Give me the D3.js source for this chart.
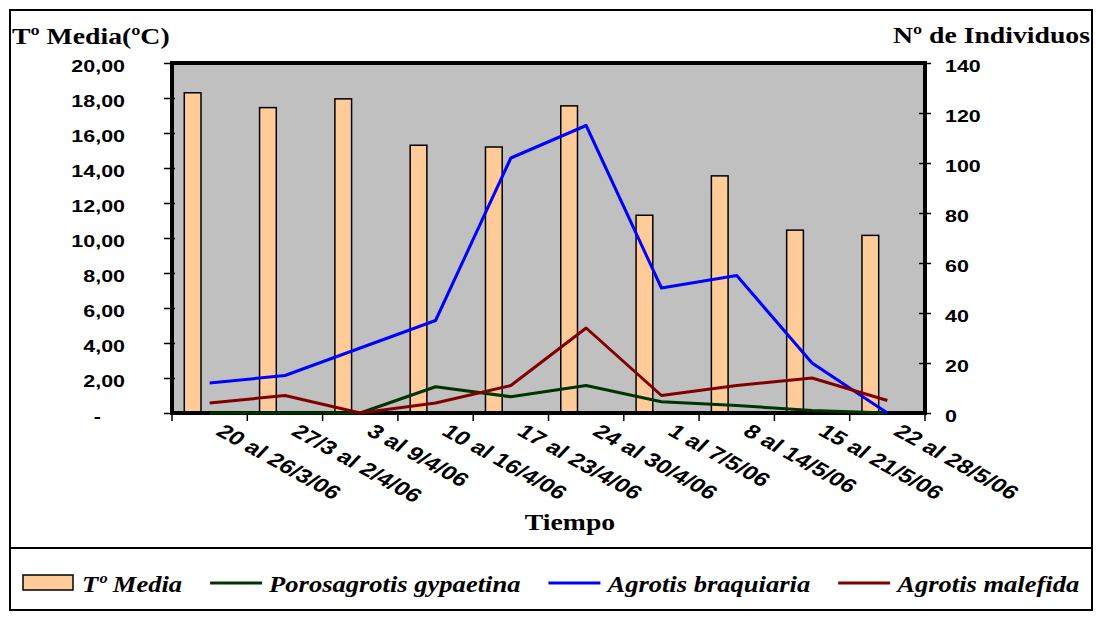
<!DOCTYPE html>
<html>
<head>
<meta charset="utf-8">
<script src="https://cdn.jsdelivr.net/npm/d3@7"></script>
<style>
  body { margin: 0; background: #fff; }
  svg { display: block; }
</style>
</head>
<body>
<svg id="chart" width="1096" height="619"></svg>
<script>
// Weekly sampling periods
const categories = [
  "20 al 26/3/06", "27/3 al 2/4/06", "3 al 9/4/06", "10 al 16/4/06", "17 al 23/4/06",
  "24 al 30/4/06", "1 al 7/5/06", "8 al 14/5/06", "15 al 21/5/06", "22 al 28/5/06"
];
// Mean temperature (ºC), left axis
const tempMedia = [18.3, 17.45, 17.95, 15.3, 15.2, 17.55, 11.3, 13.55, 10.45, 10.15];
// Number of individuals per species, right axis
const porosagrotis = [0, 0, 0, 10.5, 6.5, 11, 4.5, 3, 1, 0];
const braquiaria = [12, 15, 26, 37, 102, 115, 50, 55, 20, 0];
const malefida = [4, 7, 0, 4, 11, 34, 7, 11, 14, 5];
// Axis ticks
const leftTicks = d3.range(0, 21, 2);
const rightTicks = d3.range(0, 141, 20);

const SANS = "'Liberation Sans', Arial, sans-serif";
const SERIF = "'Liberation Serif', 'Times New Roman', serif";
const SX = 1.3;    // horizontal stretch for axis text
const SXT = 1.18;  // horizontal stretch for serif titles / legend

const svg = d3.select("#chart");
const plot = { left: 172, right: 925, top: 63, bottom: 413 };

const x = d3.scaleBand().domain(categories).range([plot.left, plot.right]);
const yL = d3.scaleLinear().domain([0, 20]).range([plot.bottom, plot.top]);
const yR = d3.scaleLinear().domain([0, 140]).range([plot.bottom, plot.top]);

// Outer frame and legend separator
svg.append("rect")
  .attr("x", 10).attr("y", 10).attr("width", 1082).attr("height", 600)
  .attr("fill", "#fff").attr("stroke", "#000").attr("stroke-width", 2);
svg.append("line")
  .attr("x1", 10).attr("x2", 1092).attr("y1", 548).attr("y2", 548)
  .attr("stroke", "#000").attr("stroke-width", 2);

// Plot background
svg.append("rect")
  .attr("x", plot.left).attr("y", plot.top)
  .attr("width", plot.right - plot.left).attr("height", plot.bottom - plot.top)
  .attr("fill", "#C0C0C0");

// Temperature bars (sit in the left part of each period)
const barOffset = 0.163, barWidth = 0.222;
svg.append("g").selectAll("rect")
  .data(tempMedia)
  .join("rect")
  .attr("x", (d, i) => x(categories[i]) + x.bandwidth() * barOffset)
  .attr("width", x.bandwidth() * barWidth)
  .attr("y", d => yL(d))
  .attr("height", d => yL(0) - yL(d))
  .attr("fill", "#FFCC99")
  .attr("stroke", "#000")
  .attr("stroke-width", 1.5);

// Plot border
svg.append("rect")
  .attr("x", plot.left).attr("y", plot.top)
  .attr("width", plot.right - plot.left).attr("height", plot.bottom - plot.top)
  .attr("fill", "none").attr("stroke", "#000").attr("stroke-width", 4);

// Species lines
const line = d3.line()
  .x((d, i) => x(categories[i]) + x.bandwidth() / 2)
  .y(d => yR(d));
const seriesList = [
  { name: "Porosagrotis gypaetina", values: porosagrotis, color: "#003300" },
  { name: "Agrotis braquiaria", values: braquiaria, color: "#0000FF" },
  { name: "Agrotis malefida", values: malefida, color: "#800000" }
];
svg.append("g").selectAll("path")
  .data(seriesList)
  .join("path")
  .attr("d", s => line(s.values))
  .attr("fill", "none")
  .attr("stroke", s => s.color)
  .attr("stroke-width", 3)
  .attr("stroke-linejoin", "round");

// Left axis
const fmtLeft = d => d === 0 ? "-" : d3.format(".2f")(d).replace(".", ",");
const gL = svg.append("g")
  .attr("transform", `translate(${plot.left},0)`)
  .call(d3.axisLeft(yL).tickValues(leftTicks).tickSize(8).tickFormat(fmtLeft));
gL.select(".domain").remove();
gL.selectAll(".tick line").attr("x1", 3).attr("stroke", "#000").attr("stroke-width", 1.5);
gL.selectAll(".tick text")
  .attr("x", null).attr("dy", null)
  .attr("text-anchor", "end")
  .attr("transform", d => `translate(${d === 0 ? -71 : -47},8.7) scale(${SX},1)`)
  .attr("font-family", SANS).attr("font-weight", "bold").attr("font-size", 16.5)
  .attr("fill", "#000");

// Right axis
const gR = svg.append("g")
  .attr("transform", `translate(${plot.right},0)`)
  .call(d3.axisRight(yR).tickValues(rightTicks).tickSize(6).tickFormat(d3.format("d")));
gR.select(".domain").remove();
gR.selectAll(".tick line").attr("x1", -6).attr("stroke", "#000").attr("stroke-width", 1.5);
gR.selectAll(".tick text")
  .attr("x", null).attr("dy", null)
  .attr("text-anchor", "start")
  .attr("transform", `translate(20,8) scale(${SX},1)`)
  .attr("font-family", SANS).attr("font-weight", "bold").attr("font-size", 16.5)
  .attr("fill", "#000");

// Bottom axis: ticks on period boundaries, rotated labels
const gB = svg.append("g")
  .attr("transform", `translate(0,${plot.bottom})`)
  .call(d3.axisBottom(x).tickSize(0));
gB.select(".domain").remove();
gB.selectAll(".tick text")
  .attr("y", null).attr("dy", null)
  .attr("text-anchor", "start")
  .attr("transform", `translate(5,21) scale(${SX},1) rotate(36)`)
  .attr("font-family", SANS).attr("font-weight", "bold").attr("font-size", 19.3)
  .attr("fill", "#000");
const boundaries = categories.map(c => x(c)).concat([x.range()[1]]);
gB.append("g").selectAll("line")
  .data(boundaries)
  .join("line")
  .attr("x1", d => d).attr("x2", d => d)
  .attr("y1", 0).attr("y2", 8)
  .attr("stroke", "#000").attr("stroke-width", 1.5);

// Titles
function title(txt, tx, ty, anchor) {
  svg.append("text")
    .attr("transform", `translate(${tx},${ty}) scale(${SXT},1)`)
    .attr("text-anchor", anchor)
    .attr("font-family", SERIF).attr("font-weight", "bold").attr("font-size", 23.5)
    .attr("fill", "#000")
    .text(txt);
}
title("Tº Media(ºC)", 12, 44, "start");
title("Nº de Individuos", 1090, 43, "end");
title("Tiempo", 570, 530, "middle");

// Legend
const legendItems = [{ name: "Tº Media", type: "bar" }]
  .concat(seriesList.map(s => ({ name: s.name, type: "line", color: s.color })));
let lx = 23;
const ly = 583;
legendItems.forEach(item => {
  if (item.type === "bar") {
    svg.append("rect")
      .attr("x", lx).attr("y", ly - 8).attr("width", 50).attr("height", 15)
      .attr("fill", "#FFCC99").attr("stroke", "#000").attr("stroke-width", 1.5);
  } else {
    svg.append("line")
      .attr("x1", lx).attr("x2", lx + 52).attr("y1", ly).attr("y2", ly)
      .attr("stroke", item.color).attr("stroke-width", 3);
  }
  const t = svg.append("text")
    .attr("transform", `translate(${lx + 59},${ly + 8.5}) scale(${SXT},1)`)
    .attr("font-family", SERIF).attr("font-weight", "bold").attr("font-style", "italic")
    .attr("font-size", 22.5).attr("fill", "#000")
    .text(item.name);
  lx += 59 + t.node().getComputedTextLength() * SXT + 28;
});
</script>
</body>
</html>
